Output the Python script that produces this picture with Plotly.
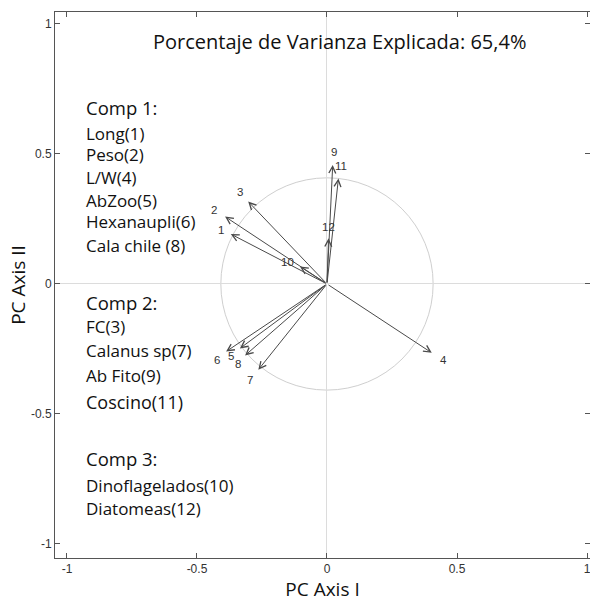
import math
import plotly.graph_objects as go

# PCA loadings (PC I, PC II) for each variable, numbered as in the legend text
var_ids = ["1", "2", "3", "4", "5", "6", "7", "8", "9", "10", "11", "12"]
pc1 = [-0.370, -0.392, -0.303, 0.403, -0.335, -0.388, -0.264, -0.315, 0.022, -0.104, 0.044, 0.006]
pc2 = [0.192, 0.259, 0.317, -0.265, -0.248, -0.260, -0.330, -0.275, 0.458, 0.067, 0.406, 0.176]

# label offsets from arrow tips, in pixels
label_dx = [-10, -11, -8, 12, -9, -9, -8, -7, 1, -12, 3, 0]
label_dy = [4, 7, 10, -7, -8, -8, -10, -9, 13, 5, 12, 11]

# equilibrium circle radius sqrt(d/p) with d=2 axes, p=12 variables
n_vars = len(var_ids)
radius = math.sqrt(2 / n_vars)

title_text = "Porcentaje de Varianza Explicada: 65,4%"
comp_heads = ["Comp 1:", "Comp 2:", "Comp 3:"]
comp_items = [
    ["Long(1)", "Peso(2)", "L/W(4)", "AbZoo(5)", "Hexanaupli(6)", "Cala chile (8)"],
    ["FC(3)", "Calanus sp(7)", "Ab Fito(9)", "Coscino(11)"],
    ["Dinoflagelados(10)", "Diatomeas(12)"],
]
x_ticks = [-1, -0.5, 0, 0.5, 1]
y_ticks = [-1, -0.5, 0, 0.5, 1]

TEXT_FONT = "Open Sans"
TICK_FONT = "Liberation Sans"

W, H = 590, 605
ML, MR, MT, MB = 55, 0, 12, 47
pw, ph = W - ML - MR, H - MT - MB


def px_x(p):
    return (p - ML) / pw


def px_y(p):
    return (H - MB - p) / ph


fig = go.Figure()
# invisible trace to establish the axes
fig.add_trace(go.Scatter(x=[0], y=[0], mode="markers", marker=dict(opacity=0), hoverinfo="skip",
                         showlegend=False))

annotations = []
for vid, x, y, dx, dy in zip(var_ids, pc1, pc2, label_dx, label_dy):
    annotations.append(dict(
        x=x, y=y, ax=0, ay=0, xref="x", yref="y", axref="x", ayref="y",
        text="", showarrow=True, arrowhead=5, arrowsize=1.35, arrowwidth=1,
        arrowcolor="#4a4a4a", standoff=0,
    ))
    annotations.append(dict(
        x=x, y=y, xref="x", yref="y", text=vid, showarrow=False,
        xshift=dx, yshift=dy, font=dict(family=TICK_FONT, size=11.5, color="#333"),
    ))

annotations.append(dict(
    x=px_x(339.5), y=px_y(41), xref="paper", yref="paper", text=title_text, showarrow=False,
    xanchor="center", yanchor="middle", font=dict(family=TEXT_FONT, size=20, color="#111"),
))

# left-hand text blocks describing the components (pixel rows)
head_rows = [107, 302, 458]
item_rows = [
    [133, 155, 177, 200, 222, 245],
    [326, 350, 375, 402],
    [485, 508],
]
for head, items, hrow, irows in zip(comp_heads, comp_items, head_rows, item_rows):
    annotations.append(dict(
        x=px_x(84), y=px_y(hrow), xref="paper", yref="paper", text=head, showarrow=False,
        xanchor="left", yanchor="middle", font=dict(family=TEXT_FONT, size=18.5, color="#111"),
    ))
    for txt, row in zip(items, irows):
        sz = 18 if txt.startswith("Coscino") else 17
        annotations.append(dict(
            x=px_x(84), y=px_y(row), xref="paper", yref="paper", text=txt, showarrow=False,
            xanchor="left", yanchor="middle", font=dict(family=TEXT_FONT, size=sz, color="#111"),
        ))

fig.update_layout(
    width=W, height=H,
    margin=dict(l=ML, r=MR, t=MT, b=MB),
    paper_bgcolor="white", plot_bgcolor="white",
    annotations=annotations,
    shapes=[dict(type="circle", xref="x", yref="y", x0=-radius, y0=-radius, x1=radius, y1=radius,
                 line=dict(color="#cfcfcf", width=1), layer="below")],
    showlegend=False,
)

fig.update_xaxes(
    range=[-1.046, 1.0115], tickvals=x_ticks, ticktext=["-1", "-0.5", "0", "0.5", "1"],
    ticklabeloverflow="allow",
    showgrid=False, zeroline=True, zerolinecolor="#dcdcdc", zerolinewidth=1,
    showline=True, linecolor="#555", linewidth=1, mirror="ticks",
    ticks="inside", ticklen=5, tickcolor="#555",
    tickfont=dict(family=TICK_FONT, size=12, color="#333"),
    title=dict(text="PC Axis I", font=dict(family=TEXT_FONT, size=19, color="#111"), standoff=2),
)
fig.update_yaxes(
    range=[-1.054, 1.046], tickvals=y_ticks, ticktext=["-1", "-0.5", "0", "0.5", "1"],
    ticklabeloverflow="allow",
    showgrid=False, zeroline=True, zerolinecolor="#dcdcdc", zerolinewidth=1,
    showline=True, linecolor="#555", linewidth=1, mirror="ticks",
    ticks="inside", ticklen=5, tickcolor="#555",
    tickfont=dict(family=TICK_FONT, size=12, color="#333"),
    title=dict(text="PC Axis II", font=dict(family=TEXT_FONT, size=19, color="#111"), standoff=0),
)

fig.write_html("out.html")
